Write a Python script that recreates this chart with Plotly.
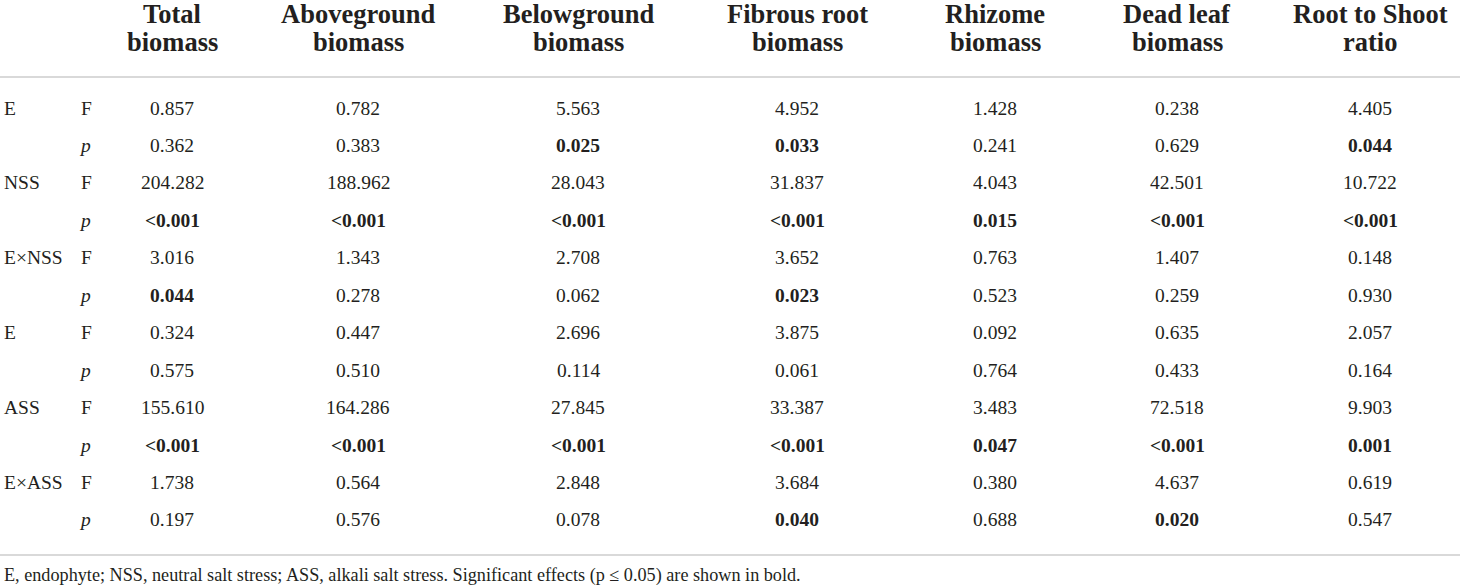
import plotly.graph_objects as go

# ---------------- data ----------------
columns = ["Total<br>biomass", "Aboveground<br>biomass", "Belowground<br>biomass",
           "Fibrous root<br>biomass", "Rhizome<br>biomass", "Dead leaf<br>biomass",
           "Root to Shoot<br>ratio"]
factors = ["E", "NSS", "E×NSS", "E", "ASS", "E×ASS"]
stats = ["F", "p"]

F_E1   = ["0.857", "0.782", "5.563", "4.952", "1.428", "0.238", "4.405"]
p_E1   = ["0.362", "0.383", "0.025", "0.033", "0.241", "0.629", "0.044"]
F_NSS  = ["204.282", "188.962", "28.043", "31.837", "4.043", "42.501", "10.722"]
p_NSS  = ["<0.001", "<0.001", "<0.001", "<0.001", "0.015", "<0.001", "<0.001"]
F_ENSS = ["3.016", "1.343", "2.708", "3.652", "0.763", "1.407", "0.148"]
p_ENSS = ["0.044", "0.278", "0.062", "0.023", "0.523", "0.259", "0.930"]
F_E2   = ["0.324", "0.447", "2.696", "3.875", "0.092", "0.635", "2.057"]
p_E2   = ["0.575", "0.510", "0.114", "0.061", "0.764", "0.433", "0.164"]
F_ASS  = ["155.610", "164.286", "27.845", "33.387", "3.483", "72.518", "9.903"]
p_ASS  = ["<0.001", "<0.001", "<0.001", "<0.001", "0.047", "<0.001", "0.001"]
F_EASS = ["1.738", "0.564", "2.848", "3.684", "0.380", "4.637", "0.619"]
p_EASS = ["0.197", "0.576", "0.078", "0.040", "0.688", "0.020", "0.547"]

footnote = ("E, endophyte; NSS, neutral salt stress; ASS, alkali salt stress. "
            "Significant effects (p ≤ 0.05) are shown in bold.")
alpha = 0.05

# ---------------- layout constants ----------------
W, H = 1460, 587
FONT = "Liberation Serif"
COLOR = "#231f20"
LINE = "#b3b3b3"
col_x = [172, 358, 578, 797, 995, 1177, 1370]
factor_x = 2
stat_x = 79
head_y = [14, 42]
row0_y = 108
row_dy = 37.45
head_line_y = 77
bottom_line_y = 555
foot_y = 575

rows = [(F_E1, p_E1), (F_NSS, p_NSS), (F_ENSS, p_ENSS),
        (F_E2, p_E2), (F_ASS, p_ASS), (F_EASS, p_EASS)]

def significant(s):
    if s.startswith("<"):
        return True
    return float(s) <= alpha

fig = go.Figure()
ann = []

# header
for cx, h in zip(col_x, columns):
    for ly, part in zip(head_y, h.split("<br>")):
        ann.append(dict(x=cx, y=ly, text="<b>" + part + "</b>", showarrow=False,
                        xanchor="center", yanchor="middle",
                        font=dict(family=FONT, size=26.5, color=COLOR)))

body_font = dict(family=FONT, size=19.5, color=COLOR)
r = 0
for fac, (Fv, pv) in zip(factors, rows):
    for st, vals in zip(stats, (Fv, pv)):
        y = row0_y + r * row_dy
        if st == "F":
            ann.append(dict(x=factor_x, y=y, text=fac, showarrow=False,
                            xanchor="left", yanchor="middle", font=body_font))
            ann.append(dict(x=stat_x, y=y, text="F", showarrow=False,
                            xanchor="left", yanchor="middle", font=body_font))
        else:
            ann.append(dict(x=stat_x - 2, y=y, text="<i>p</i>", showarrow=False,
                            xanchor="left", yanchor="middle", font=body_font))
        for cx, v in zip(col_x, vals):
            t = v.replace("<", "&lt;")
            if st == "p" and significant(v):
                t = "<b>" + t + "</b>"
            ann.append(dict(x=cx, y=y, text=t, showarrow=False,
                            xanchor="center", yanchor="middle", font=body_font))
        r += 1

ann.append(dict(x=factor_x, y=foot_y, text=footnote, showarrow=False,
                xanchor="left", yanchor="middle",
                font=dict(family=FONT, size=18.2, color=COLOR)))

shapes = [
    dict(type="line", x0=0, x1=W, y0=head_line_y, y1=head_line_y,
         line=dict(color=LINE, width=1.2)),
    dict(type="line", x0=0, x1=W, y0=bottom_line_y, y1=bottom_line_y,
         line=dict(color=LINE, width=1.2)),
]

fig.update_layout(
    width=W, height=H,
    margin=dict(l=0, r=0, t=0, b=0),
    paper_bgcolor="white", plot_bgcolor="white",
    xaxis=dict(range=[0, W], visible=False, fixedrange=True),
    yaxis=dict(range=[H, 0], visible=False, fixedrange=True),
    annotations=ann, shapes=shapes, showlegend=False,
)

fig.write_html("out.html", config={"displayModeBar": False},
               post_script="document.body.style.margin='0';document.body.style.overflow='hidden';")
